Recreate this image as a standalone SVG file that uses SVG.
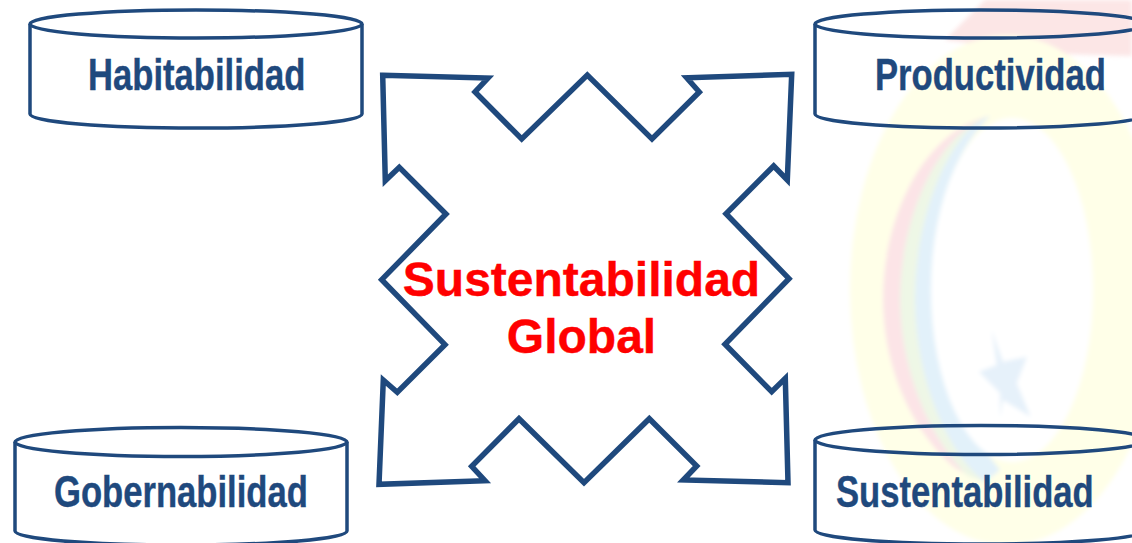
<svg xmlns="http://www.w3.org/2000/svg" width="1132" height="543" viewBox="0 0 1132 543">
<style>
.cyl{fill:none;stroke:#1F497D;stroke-width:3.5;stroke-linejoin:round}
.lbl{font-family:"Liberation Sans",Arial,sans-serif;font-weight:700;font-size:44px;fill:#1F497D;stroke:#1F497D;stroke-width:.4}
.ctr{font-family:"Liberation Sans",Arial,sans-serif;font-weight:700;font-size:48px;fill:#FF0000;stroke:#FF0000;stroke-width:.4;text-anchor:middle}
</style>
<defs>
<filter id="soft" x="-5%" y="-5%" width="110%" height="110%"><feGaussianBlur stdDeviation="2"/></filter>
</defs>
<rect width="1132" height="543" fill="#FFFFFF"/>
<g id="background" filter="url(#soft)">
<path d="M945 40 L985 0 L1132 0 L1132 56 L1060 54 Z" fill="#FCE6E6"/>
<ellipse cx="1007" cy="290" rx="157" ry="255" fill="#FFFFE8"/>
<path d="M990 116 C925 130 883 215 883 300 C884 385 925 445 958 470 L985 482 C950 420 925 360 925 290 C925 210 950 150 990 116 Z" fill="#FCE4E7"/>
<path d="M990 116 C940 130 900 215 900 300 C901 385 940 450 968 476 L985 482 C950 420 925 360 925 290 C925 210 950 150 990 116 Z" fill="#EEF7E6"/>
<path d="M990 116 C950 130 915 215 915 300 C916 385 950 455 985 482 L1000 470 C960 420 932 360 932 290 C932 210 955 150 990 116 Z" fill="#E2F1FA"/>
<ellipse cx="1012" cy="290" rx="81" ry="172" fill="#FFFFFF"/>
<path d="M991.700 330 L1003 361.700 L1027 356.700 L1016.700 383.300 L1030.700 416.700 L1003 400 L1000 418 L1000 393 L979 371.700 L996.700 365 Z" fill="#E6F1FA"/>
</g>
<g id="connectors"></g>
<g id="node-habitabilidad">
<path class="cyl" d="M30 24 V114 C30 122 104 128 196 128 C288 128 362 122 362 114 V24"/>
<ellipse class="cyl" cx="196" cy="24" rx="166" ry="14"/>
<text class="lbl" transform="translate(88 90) scale(.787 1)">Habitabilidad</text>
</g>
<g id="node-productividad">
<path class="cyl" d="M815 24 V114 C815 122 889 128 981 128 C1073 128 1147 122 1147 114 V24"/>
<ellipse class="cyl" cx="981" cy="24" rx="166" ry="14"/>
<text class="lbl" transform="translate(875 90) scale(.787 1)">Productividad</text>
</g>
<g id="node-gobernabilidad">
<path class="cyl" d="M15 442 V531 C15 539 89 545 181 545 C273 545 347 539 347 531 V442"/>
<ellipse class="cyl" cx="181" cy="442" rx="166" ry="14.500"/>
<text class="lbl" transform="translate(54 507) scale(.787 1)">Gobernabilidad</text>
</g>
<g id="node-sustentabilidad">
<path class="cyl" d="M815 440 V530 C815 538 889 544 981 544 C1073 544 1147 538 1147 530 V440"/>
<ellipse class="cyl" cx="981" cy="440" rx="166" ry="14.500"/>
<text class="lbl" transform="translate(836 507) scale(.787 1)">Sustentabilidad</text>
</g>
<g id="node-sustentabilidad-global">
<path fill="none" stroke="#1F497D" stroke-width="5.500" stroke-linejoin="miter" stroke-miterlimit="8" d="M382.700 75.300 L488 78 L475 92 L521.700 139 L587.300 75 L652 139 L699.300 92 L686.700 77.700 L791.700 74.300 L787.300 180 L773.700 166 L726 213.700 L789 278.700 L725 344.300 L771.700 391.700 L785.300 378.300 L788 482.700 L683.300 480 L696.700 466 L649.300 418.700 L584 482.700 L519 418.700 L471.700 466.300 L485 480.700 L379 484.300 L383.300 380 L397.300 392.300 L445 344.700 L381.700 279.700 L446 214 L399.300 167.300 L385.300 180.700 Z"/>
<text class="ctr" x="581.500" y="296">Sustentabilidad</text>
<text class="ctr" x="581.500" y="353">Global</text>
</g>
</svg>
